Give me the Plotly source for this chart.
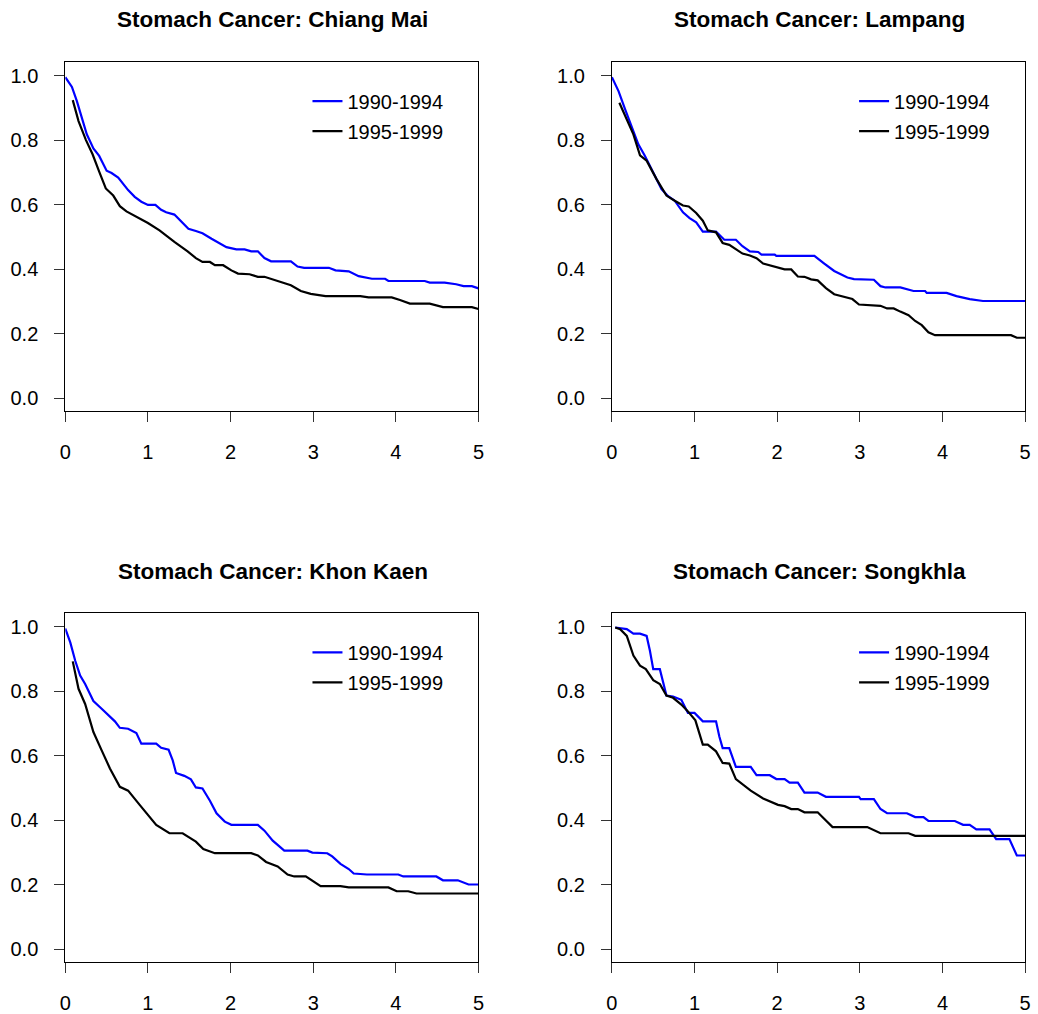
import plotly.graph_objects as go

FONT = "Liberation Sans, Arial, sans-serif"
BLUE = "#0000FF"
BLACK = "#000000"

period_labels = ["1990-1994", "1995-1999"]
regions = ["Chiang Mai", "Lampang", "Khon Kaen", "Songkhla"]

# Survival (proportion alive) against years since diagnosis
chiangmai_t_9094 = [0, 0.08, 0.14, 0.20, 0.26, 0.34, 0.41, 0.50, 0.56, 0.64, 0.76, 0.84, 0.92, 1.00, 1.09,
                    1.16, 1.22, 1.32, 1.42, 1.49, 1.58, 1.66, 1.77, 1.85, 1.95, 2.07, 2.17, 2.25, 2.33, 2.41,
                    2.49, 2.73, 2.81, 2.89, 3.19, 3.27, 3.43, 3.55, 3.71, 3.87, 3.91, 4.35, 4.41, 4.59, 4.73,
                    4.82, 4.92, 5.00]
chiangmai_s_9094 = [0.995, 0.965, 0.921, 0.870, 0.818, 0.774, 0.751, 0.705, 0.698, 0.684, 0.645, 0.624, 0.609,
                    0.599, 0.599, 0.584, 0.576, 0.569, 0.545, 0.525, 0.518, 0.511, 0.494, 0.483, 0.468, 0.461,
                    0.461, 0.455, 0.455, 0.434, 0.424, 0.424, 0.408, 0.404, 0.404, 0.396, 0.393, 0.378, 0.370,
                    0.370, 0.363, 0.363, 0.358, 0.358, 0.353, 0.347, 0.347, 0.340]
chiangmai_t_9599 = [0.09, 0.16, 0.25, 0.33, 0.41, 0.49, 0.58, 0.66, 0.74, 0.86, 1.00, 1.14, 1.32, 1.48, 1.58,
                    1.66, 1.75, 1.81, 1.91, 2.01, 2.09, 2.23, 2.33, 2.41, 2.57, 2.73, 2.85, 2.97, 3.15, 3.57,
                    3.67, 3.95, 4.05, 4.17, 4.41, 4.57, 4.92, 5.00]
chiangmai_s_9599 = [0.924, 0.859, 0.800, 0.756, 0.702, 0.650, 0.628, 0.595, 0.579, 0.563, 0.543, 0.520, 0.484,
                    0.455, 0.434, 0.422, 0.422, 0.412, 0.412, 0.396, 0.386, 0.384, 0.376, 0.376, 0.362, 0.350,
                    0.332, 0.323, 0.316, 0.316, 0.312, 0.312, 0.304, 0.293, 0.293, 0.282, 0.282, 0.276]

lampang_t_9094 = [0, 0.08, 0.16, 0.24, 0.32, 0.40, 0.50, 0.60, 0.68, 0.76, 0.86, 0.94, 1.02, 1.10, 1.26,
                  1.36, 1.50, 1.58, 1.67, 1.77, 1.81, 1.97, 1.99, 2.45, 2.57, 2.69, 2.85, 2.93, 3.17, 3.25,
                  3.31, 3.49, 3.65, 3.79, 3.81, 4.05, 4.17, 4.33, 4.49, 5.00]
lampang_s_9094 = [0.995, 0.952, 0.895, 0.839, 0.787, 0.751, 0.700, 0.648, 0.626, 0.612, 0.576, 0.558, 0.545,
                  0.516, 0.516, 0.491, 0.491, 0.471, 0.455, 0.453, 0.445, 0.445, 0.441, 0.441, 0.417, 0.394,
                  0.374, 0.369, 0.367, 0.347, 0.343, 0.343, 0.332, 0.332, 0.326, 0.326, 0.316, 0.307, 0.301,
                  0.301]
lampang_t_9599 = [0.09, 0.18, 0.26, 0.34, 0.42, 0.54, 0.66, 0.76, 0.86, 0.93, 1.02, 1.10, 1.16, 1.26, 1.34,
                  1.42, 1.58, 1.67, 1.75, 1.83, 1.93, 2.01, 2.09, 2.17, 2.25, 2.33, 2.41, 2.49, 2.59, 2.69,
                  2.77, 2.91, 2.99, 3.25, 3.33, 3.41, 3.49, 3.59, 3.67, 3.75, 3.83, 3.91, 4.83, 4.90, 5.00]
lampang_s_9599 = [0.916, 0.864, 0.818, 0.753, 0.736, 0.679, 0.628, 0.612, 0.597, 0.594, 0.574, 0.550, 0.520,
                  0.514, 0.481, 0.475, 0.448, 0.442, 0.434, 0.417, 0.410, 0.406, 0.399, 0.399, 0.377, 0.376,
                  0.368, 0.365, 0.341, 0.322, 0.316, 0.307, 0.290, 0.286, 0.278, 0.278, 0.268, 0.257, 0.239,
                  0.226, 0.204, 0.195, 0.195, 0.187, 0.187]

khonkaen_t_9094 = [0, 0.06, 0.12, 0.18, 0.24, 0.34, 0.44, 0.54, 0.60, 0.66, 0.76, 0.86, 0.92, 1.10, 1.16,
                   1.25, 1.30, 1.34, 1.44, 1.52, 1.58, 1.66, 1.75, 1.83, 1.93, 2.01, 2.33, 2.41, 2.51, 2.65,
                   2.93, 2.99, 3.17, 3.23, 3.33, 3.43, 3.49, 3.65, 4.03, 4.09, 4.49, 4.57, 4.75, 4.88, 5.00]
khonkaen_s_9094 = [0.995, 0.952, 0.895, 0.849, 0.823, 0.770, 0.746, 0.722, 0.707, 0.687, 0.684, 0.671, 0.638,
                   0.638, 0.625, 0.619, 0.586, 0.547, 0.538, 0.527, 0.502, 0.499, 0.461, 0.422, 0.396, 0.386,
                   0.386, 0.368, 0.337, 0.306, 0.306, 0.300, 0.298, 0.288, 0.265, 0.249, 0.235, 0.232, 0.232,
                   0.226, 0.226, 0.214, 0.214, 0.201, 0.201]
khonkaen_t_9599 = [0.09, 0.16, 0.24, 0.34, 0.44, 0.54, 0.66, 0.76, 0.90, 1.10, 1.26, 1.42, 1.58, 1.67, 1.81,
                   2.25, 2.33, 2.43, 2.57, 2.69, 2.77, 2.91, 3.09, 3.33, 3.43, 3.91, 4.01, 4.15, 4.25, 5.00]
khonkaen_s_9599 = [0.893, 0.808, 0.761, 0.674, 0.617, 0.561, 0.504, 0.492, 0.448, 0.386, 0.360, 0.360, 0.334,
                   0.311, 0.298, 0.298, 0.291, 0.271, 0.257, 0.232, 0.226, 0.226, 0.196, 0.196, 0.192, 0.192,
                   0.180, 0.180, 0.173, 0.173]

songkhla_t_9094 = [0.04, 0.18, 0.26, 0.34, 0.42, 0.46, 0.50, 0.58, 0.66, 0.74, 0.84, 0.92, 1.00, 1.10, 1.26,
                   1.30, 1.34, 1.42, 1.50, 1.68, 1.75, 1.91, 1.99, 2.09, 2.15, 2.25, 2.33, 2.49, 2.59, 2.99,
                   3.01, 3.17, 3.25, 3.33, 3.57, 3.67, 3.77, 3.83, 4.15, 4.25, 4.33, 4.41, 4.57, 4.65, 4.81,
                   4.90, 5.00]
songkhla_s_9094 = [0.998, 0.993, 0.979, 0.979, 0.972, 0.926, 0.869, 0.869, 0.787, 0.784, 0.774, 0.733, 0.733,
                   0.707, 0.707, 0.660, 0.624, 0.624, 0.566, 0.566, 0.540, 0.540, 0.528, 0.528, 0.517, 0.517,
                   0.486, 0.486, 0.473, 0.473, 0.466, 0.466, 0.435, 0.422, 0.422, 0.410, 0.410, 0.398, 0.398,
                   0.386, 0.386, 0.372, 0.372, 0.342, 0.342, 0.291, 0.291]
songkhla_t_9599 = [0.04, 0.10, 0.18, 0.26, 0.34, 0.41, 0.50, 0.58, 0.66, 0.74, 0.84, 0.92, 1.01, 1.10, 1.16,
                   1.26, 1.34, 1.42, 1.50, 1.58, 1.68, 1.83, 2.01, 2.09, 2.17, 2.25, 2.33, 2.49, 2.67, 3.09,
                   3.17, 3.25, 3.59, 3.67, 5.00]
songkhla_s_9599 = [0.998, 0.993, 0.972, 0.911, 0.880, 0.869, 0.835, 0.823, 0.787, 0.780, 0.759, 0.738, 0.710,
                   0.635, 0.635, 0.614, 0.578, 0.576, 0.528, 0.512, 0.492, 0.468, 0.448, 0.444, 0.435, 0.435,
                   0.425, 0.425, 0.379, 0.379, 0.370, 0.360, 0.360, 0.352, 0.352]

x_ticks = [0, 1, 2, 3, 4, 5]
y_ticks = [0.0, 0.2, 0.4, 0.6, 0.8, 1.0]

curves = [
    (chiangmai_t_9094, chiangmai_s_9094, chiangmai_t_9599, chiangmai_s_9599),
    (lampang_t_9094, lampang_s_9094, lampang_t_9599, lampang_s_9599),
    (khonkaen_t_9094, khonkaen_s_9094, khonkaen_t_9599, khonkaen_s_9599),
    (songkhla_t_9094, songkhla_s_9094, songkhla_t_9599, songkhla_s_9599),
]

W, H = 1038, 1014
# panel frames in pixels: (left, right, top, bottom)
frames = [(60, 478, 62, 413), (613, 1031, 62, 413), (60, 478, 616, 967), (613, 1031, 616, 967)]

fig = go.Figure()
layout = dict(
    width=W, height=H,
    margin=dict(l=0, r=0, t=0, b=0),
    paper_bgcolor="white", plot_bgcolor="white",
    font=dict(family=FONT, size=20, color="#000000"),
    annotations=[],
)

for i, (region, (t1, s1, t2, s2), (l, r, tp, bt)) in enumerate(zip(regions, curves, frames)):
    n = "" if i == 0 else str(i + 1)
    lg = "legend" + n
    fig.add_trace(go.Scatter(x=t1, y=s1, mode="lines", name=period_labels[0],
                             line=dict(color=BLUE, width=2.2), xaxis="x" + n, yaxis="y" + n,
                             legend=lg, legendgroup=f"a{i}"))
    fig.add_trace(go.Scatter(x=t2, y=s2, mode="lines", name=period_labels[1],
                             line=dict(color=BLACK, width=2.2), xaxis="x" + n, yaxis="y" + n,
                             legend=lg, legendgroup=f"b{i}"))

    axis_common = dict(showgrid=False, zeroline=False, showline=True, mirror=True,
                       linecolor="#000000", linewidth=1, ticks="outside", ticklen=10,
                       tickcolor="#333333", tickwidth=1,
                       tickfont=dict(family=FONT, size=20, color="#000000"))
    layout["xaxis" + n] = dict(axis_common, domain=[l / W, r / W], range=[0, 5],
                               tickvals=x_ticks, anchor="y" + n, ticklabelstandoff=13)
    layout["yaxis" + n] = dict(axis_common, domain=[1 - bt / H, 1 - tp / H], range=[-0.0401, 1.0432],
                               tickvals=y_ticks, tickformat=".1f", anchor="x" + n, ticklabelstandoff=12)
    layout[lg] = dict(x=(l + 245) / W, y=1 - (tp + 20) / H, xanchor="left", yanchor="top",
                      bgcolor="rgba(0,0,0,0)", font=dict(family=FONT, size=20, color="#000000"),
                      tracegroupgap=1, itemwidth=30)
    layout["annotations"].append(dict(
        text="<b>Stomach Cancer: " + region + "</b>", xref="paper", yref="paper",
        x=(l + r + 2) / 2 / W, y=1 - (tp - 42) / H, xanchor="center", yanchor="middle",
        showarrow=False, font=dict(family=FONT, size=22.5, color="#000000")))

fig.update_layout(**layout)
fig.write_html("out.html")
